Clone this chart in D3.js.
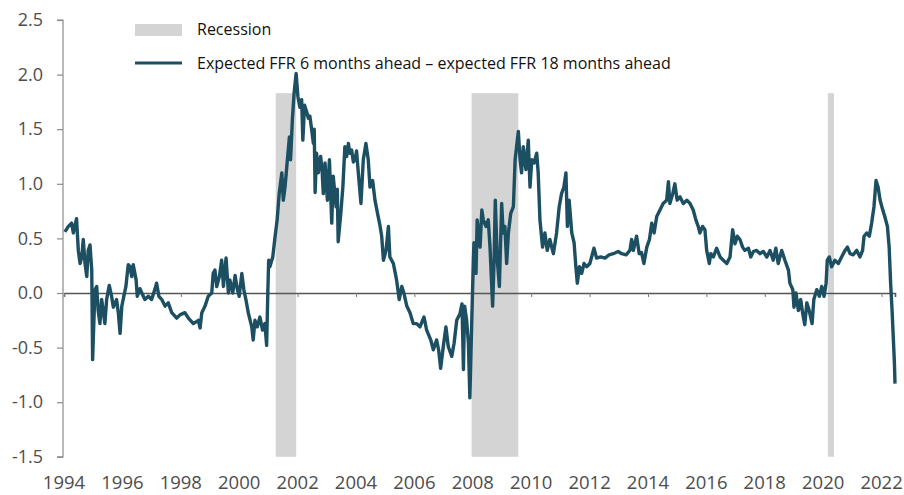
<!DOCTYPE html>
<html>
<head>
<meta charset="utf-8">
<script src="https://cdn.jsdelivr.net/npm/d3@7"></script>
<style>
  html, body { margin: 0; padding: 0; background: #ffffff; }
  svg { display: block; }
</style>
</head>
<body>
<svg id="chart" width="904" height="495"></svg>
<script>
// ---------------- DATA ----------------
const yTickValues = [-1.5, -1.0, -0.5, 0.0, 0.5, 1.0, 1.5, 2.0, 2.5];
const xTickYears = [1994, 1996, 1998, 2000, 2002, 2004, 2006, 2008, 2010, 2012, 2014, 2016, 2018, 2020, 2022];
const recessionStart = [2001.25, 2007.96, 2020.16];
const recessionEnd   = [2001.95, 2009.56, 2020.37];
const recessionTopValue = 1.83;
const legendLabels = ["Recession", "Expected FFR 6 months ahead \u2013 expected FFR 18 months ahead"];

// decimal year of each observation
const dates = [
1994.03,1994.15,1994.26,1994.32,1994.43,1994.49,1994.55,1994.61,1994.66,1994.72,1994.78,1994.83,1994.89,1994.95,1994.98,
1995.06,1995.12,1995.17,1995.23,1995.29,1995.35,1995.40,1995.46,1995.55,1995.63,1995.69,1995.80,1995.86,1995.92,1995.98,
1996.05,1996.12,1996.20,1996.26,1996.32,1996.37,1996.47,1996.51,1996.60,1996.70,1996.77,1996.89,
1997.00,1997.12,1997.17,1997.25,1997.35,1997.46,1997.57,1997.69,1997.86,1997.97,
1998.14,1998.26,1998.43,1998.60,1998.66,1998.72,1998.83,1998.94,
1999.06,1999.11,1999.17,1999.23,1999.32,1999.40,1999.46,1999.55,1999.63,1999.68,1999.78,1999.86,1999.94,
2000.00,2000.09,2000.16,2000.23,2000.31,2000.43,2000.48,2000.54,2000.62,2000.71,2000.80,2000.88,2000.94,2000.98,
2001.01,2001.05,2001.15,2001.23,2001.30,2001.37,2001.46,2001.51,2001.57,2001.65,2001.72,2001.76,2001.82,2001.88,2001.95,
2002.01,2002.08,2002.14,2002.18,2002.24,2002.31,2002.37,2002.42,2002.48,2002.54,2002.57,2002.60,2002.65,2002.71,2002.79,2002.84,2002.88,2002.94,
2003.02,2003.09,2003.17,2003.22,2003.28,2003.32,2003.36,2003.39,2003.48,2003.55,2003.62,2003.68,2003.74,2003.79,2003.85,2003.91,2003.97,
2004.02,2004.08,2004.17,2004.25,2004.34,2004.42,2004.48,2004.57,2004.65,2004.76,2004.82,2004.88,2004.94,
2005.03,2005.11,2005.16,2005.28,2005.39,2005.48,2005.57,2005.64,2005.74,2005.85,2005.96,
2006.08,2006.19,2006.33,2006.42,2006.56,2006.65,2006.76,2006.83,2006.90,2006.99,
2007.08,2007.16,2007.28,2007.36,2007.45,2007.56,2007.63,2007.68,2007.72,2007.79,2007.85,2007.90,2007.96,2007.99,
2008.02,2008.04,2008.11,2008.15,2008.25,2008.31,2008.36,2008.45,2008.53,2008.59,2008.68,2008.73,2008.77,2008.84,2008.91,2008.99,
2009.04,2009.10,2009.16,2009.22,2009.30,2009.39,2009.45,2009.50,2009.56,2009.62,2009.67,2009.73,2009.82,2009.90,2009.96,
2010.02,2010.10,2010.19,2010.24,2010.30,2010.39,2010.47,2010.55,2010.64,2010.76,2010.87,2010.96,
2011.04,2011.12,2011.19,2011.24,2011.30,2011.39,2011.47,2011.53,2011.58,2011.65,2011.73,2011.81,2011.90,
2012.01,2012.15,2012.24,2012.38,2012.53,2012.67,2012.81,2012.98,
2013.10,2013.25,2013.38,2013.44,2013.50,2013.61,2013.70,2013.78,2013.86,2013.96,
2014.05,2014.13,2014.21,2014.30,2014.41,2014.52,2014.64,2014.70,2014.75,2014.85,2014.92,
2015.00,2015.10,2015.21,2015.33,2015.44,2015.55,2015.64,2015.72,2015.78,2015.87,2015.95,
2016.01,2016.10,2016.15,2016.24,2016.35,2016.47,2016.58,2016.70,2016.81,2016.90,2016.98,
2017.06,2017.15,2017.24,2017.32,2017.44,2017.52,2017.61,2017.72,2017.84,2017.95,
2018.07,2018.18,2018.29,2018.38,2018.46,2018.58,2018.69,2018.81,2018.86,2018.96,
2019.00,2019.07,2019.15,2019.23,2019.30,2019.37,2019.44,2019.52,2019.62,2019.68,2019.78,2019.87,2019.95,
2020.03,2020.10,2020.14,2020.21,2020.29,2020.40,2020.52,2020.63,2020.75,2020.83,2020.92,
2021.03,2021.15,2021.26,2021.35,2021.40,2021.49,2021.58,2021.66,2021.74,2021.81,2021.88,2021.95,
2022.01,2022.11,2022.20,2022.26,2022.31,2022.36,2022.40,2022.44,2022.46
];

// expected FFR 6m ahead minus expected FFR 18m ahead (pp)
const values = [
0.56,0.61,0.64,0.55,0.68,0.39,0.27,0.33,0.49,0.27,0.15,0.39,0.44,0.21,-0.61,
0.03,0.06,-0.16,-0.28,-0.06,-0.18,-0.28,-0.06,0.07,-0.03,-0.13,-0.06,-0.18,-0.37,-0.12,
-0.03,0.06,0.26,0.24,0.15,0.26,0.12,-0.03,0.04,-0.02,-0.06,-0.03,
-0.06,0.04,0.09,-0.03,-0.06,-0.12,-0.09,-0.18,-0.23,-0.20,
-0.18,-0.23,-0.28,-0.25,-0.32,-0.18,-0.12,-0.03,
0.00,0.18,0.21,0.06,0.15,0.30,0.06,0.32,0.00,0.12,0.00,0.16,0.03,
-0.03,0.18,0.03,-0.06,-0.18,-0.31,-0.43,-0.25,-0.31,-0.22,-0.34,-0.28,-0.48,0.00,
0.30,0.24,0.33,0.52,0.67,0.91,1.10,0.85,0.97,1.22,1.43,1.22,1.58,1.83,2.01,
1.80,1.70,1.77,1.40,1.72,1.66,1.60,1.62,1.50,1.37,1.50,0.92,1.28,1.10,1.25,1.12,0.91,1.19,
0.85,1.22,0.64,1.07,0.90,0.79,0.95,0.47,0.73,0.97,1.34,1.25,1.37,1.28,1.31,1.20,1.22,
1.30,1.10,0.82,1.22,1.37,1.22,0.97,1.03,0.85,0.70,0.62,0.52,0.30,
0.39,0.61,0.33,0.27,0.12,-0.06,0.06,0.00,-0.12,-0.18,-0.28,
-0.28,-0.31,-0.22,-0.34,-0.43,-0.52,-0.43,-0.52,-0.69,-0.49,
-0.31,-0.49,-0.58,-0.46,-0.25,-0.19,-0.10,-0.70,-0.12,-0.25,-0.46,-0.96,-0.31,0.00,
0.30,0.46,0.18,0.67,0.42,0.76,0.67,0.61,0.67,0.42,-0.12,0.30,0.85,0.30,0.06,0.82,
0.55,0.61,0.27,0.55,0.73,0.79,1.22,1.34,1.48,1.22,1.10,1.34,1.13,1.40,0.97,
1.22,1.19,1.28,1.10,0.67,0.42,0.55,0.39,0.49,0.36,0.55,0.79,
0.91,0.97,1.10,0.61,0.85,0.55,0.46,0.24,0.09,0.24,0.18,0.27,0.24,
0.27,0.41,0.32,0.33,0.32,0.35,0.36,0.38,
0.36,0.35,0.39,0.49,0.39,0.52,0.36,0.37,0.27,0.42,
0.49,0.64,0.55,0.70,0.76,0.82,0.85,1.02,0.82,0.91,1.00,
0.85,0.88,0.82,0.85,0.82,0.76,0.67,0.61,0.55,0.61,0.58,
0.39,0.27,0.36,0.33,0.41,0.33,0.30,0.27,0.33,0.58,0.45,
0.52,0.49,0.42,0.39,0.41,0.33,0.38,0.39,0.36,0.38,
0.33,0.39,0.30,0.41,0.27,0.39,0.30,0.21,0.09,0.03,
-0.13,0.00,-0.16,-0.06,-0.19,-0.29,-0.09,-0.16,-0.28,-0.06,0.03,-0.03,0.06,
-0.03,0.09,0.30,0.33,0.24,0.30,0.27,0.33,0.39,0.42,0.36,
0.35,0.39,0.33,0.39,0.52,0.55,0.52,0.64,0.79,1.03,0.97,0.85,
0.79,0.70,0.61,0.42,0.09,-0.16,-0.40,-0.64,-0.83
];

// ---------------- CHART ----------------
const svg = d3.select("#chart");
const fontFamily = "'Open Sans', 'Noto Sans', sans-serif";

const x = d3.scaleLinear().domain([1994, 2022.46]).range([64, 895]);
const y = d3.scaleLinear().domain([-1.5, 2.5]).range([456.8, 20]);

const series = dates.map((d, i) => ({ t: d, v: values[i] }));

// recession bars
svg.append("g").selectAll("rect")
  .data(recessionStart.map((s, i) => ({ s, e: recessionEnd[i] })))
  .join("rect")
  .attr("x", d => x(d.s))
  .attr("width", d => x(d.e) - x(d.s))
  .attr("y", y(recessionTopValue))
  .attr("height", y(-1.5) - y(recessionTopValue))
  .attr("fill", "#d4d4d4");

// x axis along zero line
const xAxis = d3.axisBottom(x)
  .tickValues(xTickYears)
  .tickSize(4)
  .tickFormat("");
const gx = svg.append("g")
  .attr("transform", `translate(0,${y(0)})`)
  .call(xAxis);
gx.select(".domain").attr("stroke", "#555555").attr("stroke-width", 1.6);
gx.selectAll(".tick line").attr("stroke", "#777777");

// x tick labels at the bottom
svg.append("g").selectAll("text")
  .data(xTickYears)
  .join("text")
  .attr("x", d => x(d))
  .attr("y", 489)
  .attr("text-anchor", "middle")
  .attr("font-family", fontFamily)
  .attr("font-size", 18.5)
  .attr("fill", "#4d4d4d")
  .text(d => d);

// y axis
const yAxis = d3.axisLeft(y)
  .tickValues(yTickValues)
  .tickSize(6)
  .tickPadding(14)
  .tickFormat(d3.format(".1f"));
const gy = svg.append("g")
  .attr("transform", "translate(63,0)")
  .call(yAxis);
gy.select(".domain").attr("stroke", "#8c8c8c").attr("stroke-width", 1.2)
  .attr("d", `M-6,${y(2.5)}H0V${y(-1.5)}H-6`);
gy.selectAll(".tick line").attr("stroke", "#8c8c8c").attr("stroke-width", 1.2);
gy.selectAll(".tick text")
  .attr("font-family", fontFamily)
  .attr("font-size", 18)
  .attr("fill", "#4d4d4d")
  .text(d => d < 0 ? "-" + Math.abs(d).toFixed(1) : d.toFixed(1));

// series line
const line = d3.line().x(d => x(d.t)).y(d => y(d.v));
svg.append("path")
  .datum(series)
  .attr("fill", "none")
  .attr("stroke", "#1d4f62")
  .attr("stroke-width", 3.4)
  .attr("stroke-linejoin", "round")
  .attr("d", line);

// legend
const lg = svg.append("g");
lg.append("rect")
  .attr("x", 135).attr("y", 24).attr("width", 47).attr("height", 12)
  .attr("fill", "#d4d4d4");
lg.append("line")
  .attr("x1", 135).attr("x2", 182).attr("y1", 63).attr("y2", 63)
  .attr("stroke", "#1d4f62").attr("stroke-width", 3.2);
lg.selectAll("text")
  .data(legendLabels)
  .join("text")
  .attr("x", 197)
  .attr("y", (d, i) => i === 0 ? 35 : 69)
  .attr("font-family", fontFamily)
  .attr("font-size", 16)
  .attr("fill", "#111111")
  .text(d => d);
</script>
</body>
</html>
